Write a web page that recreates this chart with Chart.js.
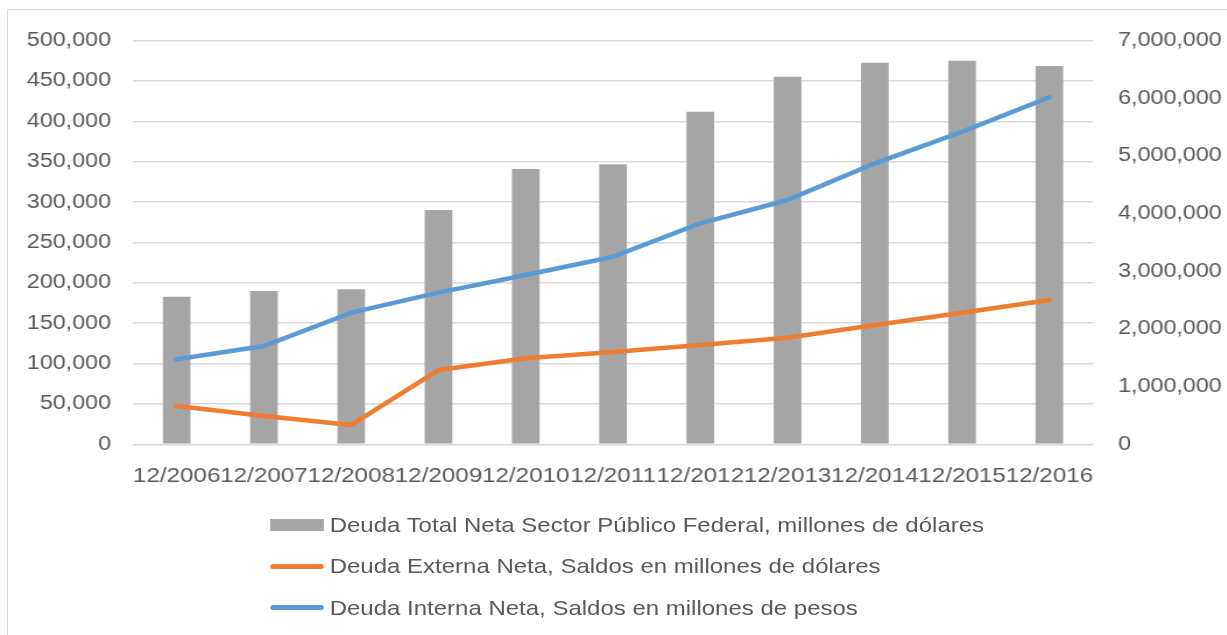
<!DOCTYPE html>
<html><head><meta charset="utf-8">
<script src="https://cdn.jsdelivr.net/npm/chart.js@4/dist/chart.umd.min.js"></script>
<style>
html,body{margin:0;padding:0;background:#fff;overflow:hidden;width:1227px;height:635px;}
#frame{position:absolute;left:7px;top:9px;width:1300px;height:700px;border-left:1.5px solid #d9d9d9;border-top:1.5px solid #d9d9d9;}
#wrap{position:absolute;left:0;top:0;width:1054px;height:635px;transform:scaleX(1.165);transform-origin:0 0;}
#c{position:absolute;left:0;top:0;}
#legend{position:absolute;left:232px;top:504px;font-family:"Liberation Sans",Arial,sans-serif;font-size:20.6px;color:#595959;}
.item{height:41.5px;display:flex;align-items:center;white-space:nowrap;}
.sw{width:46px;margin-right:5px;flex:none;}
</style></head>
<body>
<div id="frame"></div>
<div id="wrap"><canvas id="c" width="1054" height="500"></canvas><div id="legend"></div></div>
<script>
const categories = ['12/2006','12/2007','12/2008','12/2009','12/2010','12/2011','12/2012','12/2013','12/2014','12/2015','12/2016'];
const deudaTotal = [182800, 189900, 192000, 290200, 341000, 346800, 411900, 455300, 472600, 475100, 468500];
const deudaExterna = [47400, 35000, 23900, 92000, 106500, 114300, 123000, 132000, 147700, 163000, 178700];
const deudaInterna = [1474000, 1705000, 2282000, 2629000, 2936000, 3253000, 3832000, 4236000, 4872000, 5420000, 6017000];
const seriesLabels = ['Deuda Total Neta Sector Público Federal, millones de dólares','Deuda Externa Neta, Saldos en millones de dólares','Deuda Interna Neta, Saldos en millones de pesos'];
const leftTicks = {min:0, max:500000, step:50000};
const rightTicks = {min:0, max:7000000, step:1000000};

const fmt = v => Number(v).toLocaleString('en-US');
const tickFont = {family:'"Liberation Sans", Arial, sans-serif', size:20};
const xFont = {family:'"Liberation Sans", Arial, sans-serif', size:20.8};
const colors = ['#a5a5a5','#ed7d31','#5b9bd5'];

const chart = new Chart(document.getElementById('c'), {
  data: {
    labels: categories,
    datasets: [
      {type:'bar', label:seriesLabels[0], data:deudaTotal, backgroundColor:colors[0], barPercentage:0.317, categoryPercentage:1, yAxisID:'y', order:3},
      {type:'line', label:seriesLabels[1], data:deudaExterna, borderColor:colors[1], backgroundColor:colors[1], borderWidth:4.5, pointRadius:0, tension:0, borderCapStyle:'round', borderJoinStyle:'round', yAxisID:'y', order:1},
      {type:'line', label:seriesLabels[2], data:deudaInterna, borderColor:colors[2], backgroundColor:colors[2], borderWidth:4.5, pointRadius:0, tension:0, borderCapStyle:'round', borderJoinStyle:'round', yAxisID:'y1', order:2}
    ]
  },
  options: {
    responsive:false, animation:false, devicePixelRatio:1,
    layout:{padding:{top:40.6,left:0,right:0,bottom:0}},
    plugins:{legend:{display:false}, tooltip:{enabled:false}},
    scales:{
      x:{grid:{display:false}, border:{display:false},
         ticks:{font:xFont, color:'#595959', autoSkip:false, maxRotation:0, minRotation:0, padding:11.2},
         afterFit:s=>{s.height=55.7;}},
      y:{position:'left', min:leftTicks.min, max:leftTicks.max,
         grid:{color:'#d9d9d9', lineWidth:1.5, drawTicks:false}, border:{display:false},
         ticks:{stepSize:leftTicks.step, font:tickFont, color:'#595959', padding:18.9, callback:fmt},
         afterFit:s=>{s.width=114.2;}},
      y1:{position:'right', min:rightTicks.min, max:rightTicks.max,
         grid:{display:false, drawTicks:false}, border:{display:false},
         ticks:{stepSize:rightTicks.step, font:tickFont, color:'#595959', padding:21.5, callback:fmt},
         afterFit:s=>{s.width=115.8;}}
    }
  }
});

const lg = document.getElementById('legend');
chart.data.datasets.forEach((ds,i)=>{
  const it = document.createElement('div'); it.className='item';
  const sw = document.createElement('div'); sw.className='sw';
  if (ds.type==='bar'){ sw.style.height='12px'; sw.style.background=ds.backgroundColor; }
  else { sw.style.height='5px'; sw.style.background=ds.borderColor; sw.style.borderRadius='3px'; }
  const tx = document.createElement('span'); tx.textContent = ds.label;
  it.appendChild(sw); it.appendChild(tx); lg.appendChild(it);
});
</script>
</body></html>
